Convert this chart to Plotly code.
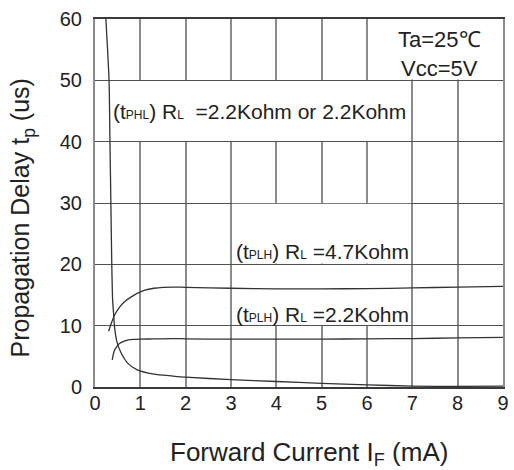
import plotly.graph_objects as go

# ---- data ----
phl_x = [0.24, 0.31, 0.33, 0.35, 0.37, 0.39, 0.41, 0.43, 0.49, 0.58, 0.72, 0.93, 1.3, 1.7, 2.0, 3.0, 4.0, 5.0, 6.0, 7.0, 8.0, 9.0]
phl_y = [60, 50, 40, 30, 20, 14, 12, 9.8, 7.2, 5.5, 3.9, 2.8, 2.1, 1.8, 1.6, 1.2, 0.9, 0.6, 0.35, 0.15, 0.1, 0.15]

plh47_x = [0.30, 0.36, 0.43, 0.53, 0.65, 0.80, 0.94, 1.1, 1.3, 1.5, 1.73, 2.0, 3.0, 4.0, 5.0, 6.0, 7.0, 8.0, 9.0]
plh47_y = [9.1, 10.4, 11.7, 12.9, 13.9, 14.7, 15.3, 15.8, 16.1, 16.25, 16.3, 16.25, 16.1, 16.0, 16.0, 16.05, 16.15, 16.3, 16.4]

plh22_x = [0.38, 0.40, 0.43, 0.48, 0.54, 0.62, 0.72, 0.85, 1.01, 1.3, 1.73, 2.0, 3.0, 4.0, 5.0, 6.0, 7.0, 8.0, 9.0]
plh22_y = [4.4, 5.2, 6.0, 6.6, 7.1, 7.4, 7.65, 7.75, 7.8, 7.85, 7.9, 7.85, 7.8, 7.8, 7.8, 7.85, 7.9, 8.0, 8.1]

x_ticks = [0, 1, 2, 3, 4, 5, 6, 7, 8, 9]
y_ticks = [0, 10, 20, 30, 40, 50, 60]

FONT = "Liberation Sans, Arial, sans-serif"
TXT = "#222222"

fig = go.Figure()
for xs, ys in [(phl_x, phl_y), (plh47_x, plh47_y), (plh22_x, plh22_y)]:
    fig.add_trace(go.Scatter(x=xs, y=ys, mode="lines",
                             line=dict(color="#333333", width=1.3, shape="spline", smoothing=0.6),
                             showlegend=False, hoverinfo="skip"))

# white label boxes that hide the grid behind the labels
boxes = [(6.05, 9.0, 50.12, 60.0), (0.37, 6.97, 40.12, 49.88),
         (3.03, 6.97, 20.12, 29.88), (3.03, 6.97, 10.12, 19.88)]
for x0, x1, y0, y1 in boxes:
    fig.add_shape(type="rect", xref="x", yref="y", x0=x0, x1=x1, y0=y0, y1=y1,
                  fillcolor="white", line=dict(width=0), layer="between")

small = '<span style="font-size:12px">%s</span>'
lab_font = dict(family=FONT, size=21, color=TXT)
fig.add_annotation(x=7.6, y=54.3, xref="x", yref="y", text="Ta=25℃<br>Vcc=5V",
                   showarrow=False, font=dict(family=FONT, size=22, color=TXT), align="center",
                   xanchor="center", yanchor="middle")
fig.add_annotation(x=0.36, y=44.9, xref="x", yref="y", xanchor="left", yanchor="middle",
                   text="(t" + small % "PHL" + ") R" + small % "L" + "  =2.2Kohm or 2.2Kohm",
                   showarrow=False, font=lab_font)
fig.add_annotation(x=3.06, y=22.1, xref="x", yref="y", xanchor="left", yanchor="middle",
                   text="(t" + small % "PLH" + ") R" + small % "L" + " =4.7Kohm",
                   showarrow=False, font=lab_font)
fig.add_annotation(x=3.06, y=11.9, xref="x", yref="y", xanchor="left", yanchor="middle",
                   text="(t" + small % "PLH" + ") R" + small % "L" + " =2.2Kohm",
                   showarrow=False, font=lab_font)

# axis titles
fig.add_annotation(x=0.525, y=-0.182, xref="paper", yref="paper",
                   xanchor="center", yanchor="middle",
                   text="Forward Current I<sub>F</sub> (mA)", showarrow=False,
                   font=dict(family=FONT, size=26, color=TXT))
fig.add_annotation(x=-0.178, y=0.459, xref="paper", yref="paper", textangle=-90,
                   xanchor="center", yanchor="middle",
                   text="Propagation Delay t<sub>p</sub> (us)", showarrow=False,
                   font=dict(family=FONT, size=25, color=TXT))

fig.update_layout(
    width=514, height=470,
    margin=dict(l=95, r=5, t=19, b=83),
    paper_bgcolor="white", plot_bgcolor="white",
    xaxis=dict(range=[0, 9], tickvals=x_ticks, ticktext=[str(v) for v in x_ticks],
               showgrid=True, gridcolor="#8c8c8c", gridwidth=2, zeroline=False,
               showline=True, linecolor="#3a3a3a", linewidth=1.5, mirror=True,
               ticks="", ticklabelstandoff=-3,
               tickfont=dict(family=FONT, size=20, color=TXT), fixedrange=True),
    yaxis=dict(range=[0, 60], tickvals=y_ticks, ticktext=[str(v) for v in y_ticks],
               showgrid=True, gridcolor="#505050", gridwidth=1.3, zeroline=False,
               showline=True, linecolor="#8c8c8c", linewidth=2, mirror=True,
               ticks="", ticklabelstandoff=7,
               tickfont=dict(family=FONT, size=20, color=TXT), fixedrange=True),
)

fig.write_html("out.html", config={"displayModeBar": False},
               post_script="document.body.style.margin='0';document.body.style.overflow='hidden';")
